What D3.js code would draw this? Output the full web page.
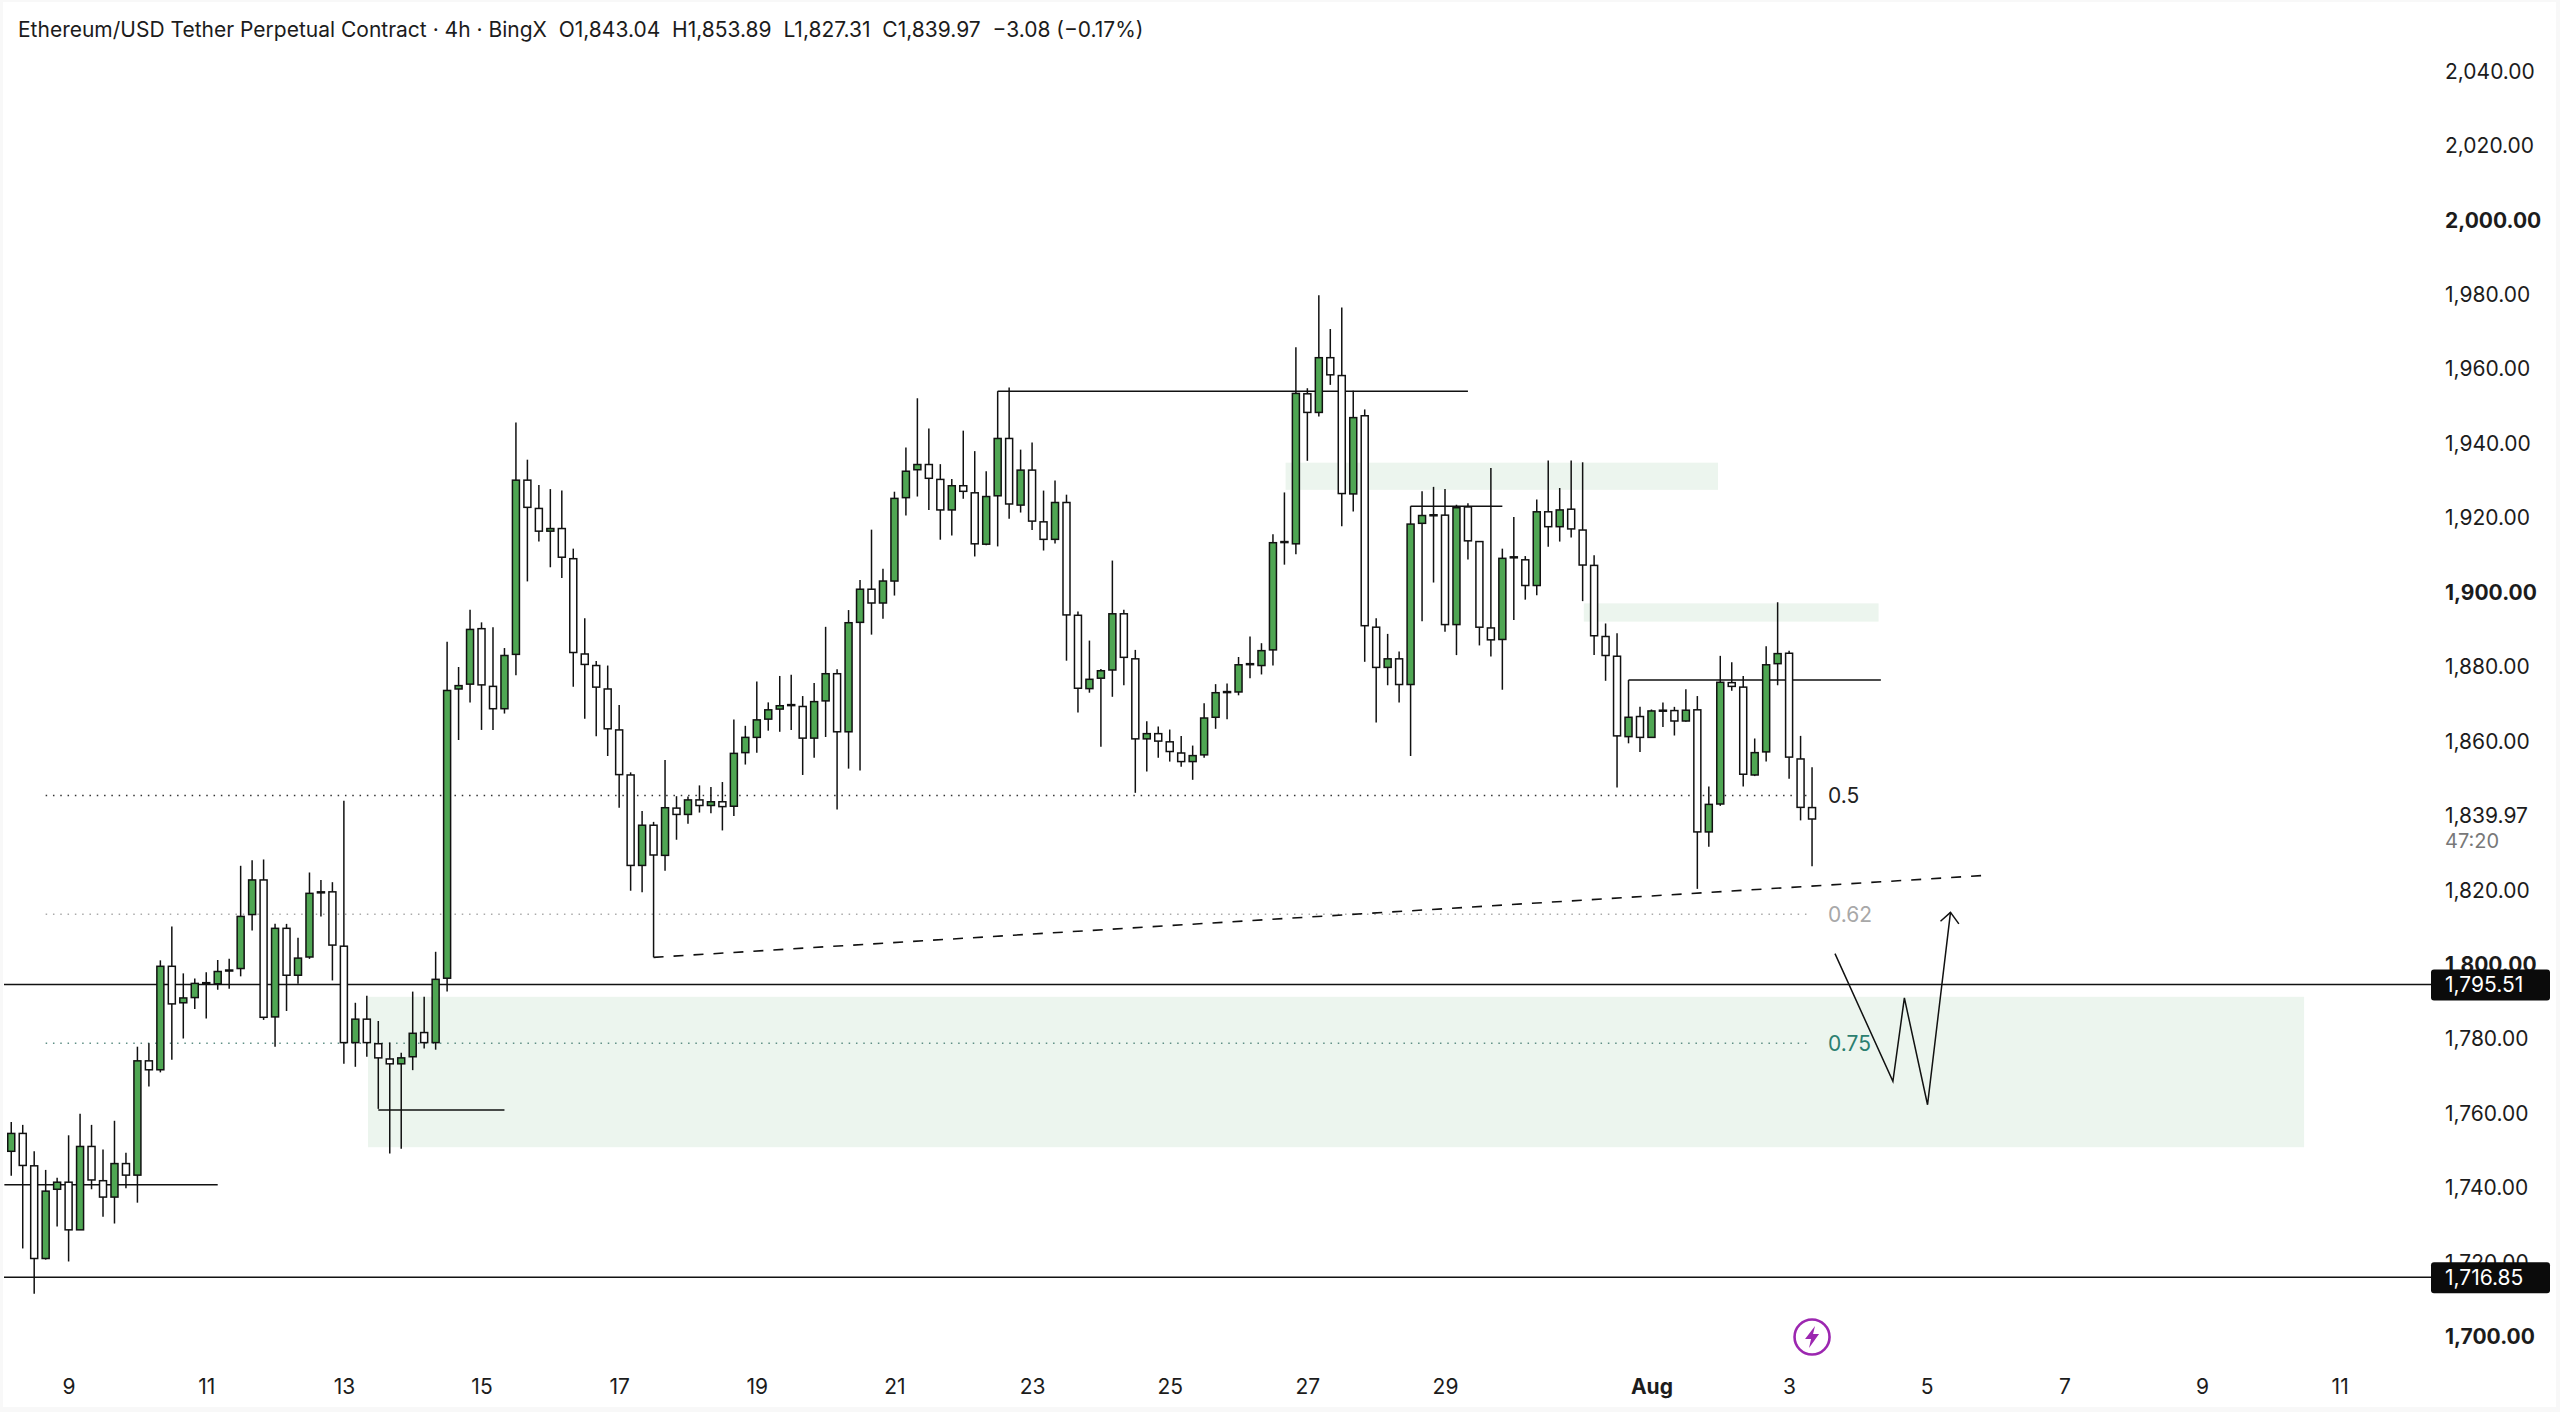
<!DOCTYPE html>
<html>
<head>
<meta charset="utf-8">
<title>ETH/USDT 4h</title>
<script src="https://cdn.jsdelivr.net/npm/d3@7/dist/d3.min.js"></script>
<style>
  html, body { margin: 0; padding: 0; background: #f8f8f8; }
  svg { display: block; }
  text { font-family: Inter, "Noto Sans", sans-serif; white-space: pre; }
  .axis path, .axis line { display: none; }
</style>
</head>
<body>
<svg id="chart" width="2560" height="1412"></svg>
<script>
// Candles, 4h bars, one entry per bar (index 0 = 8 Jul 04:00 or so)
const opens = [
  1750.7,1755.5,1746.8,1721.9,1740.5,1742.4,1729.6,1752.0,1742.8,1738.4,
  1747.4,1744.3,1775.0,1772.6,1800.4,1790.6,1792.0,1795.8,1795.7,1799.3,
  1799.8,1814.3,1823.6,1786.8,1810.6,1798.0,1802.9,1820.3,1820.4,1805.8,
  1779.9,1786.2,1779.6,1775.5,1774.2,1776.1,1782.6,1779.9,1797.2,1874.9,
  1876.2,1891.1,1875.6,1869.6,1884.2,1931.0,1923.4,1917.3,1918.0,1909.9,
  1884.3,1881.2,1874.9,1863.9,1851.8,1827.5,1838.3,1830.2,1842.9,1841.2,
  1845.1,1843.6,1844.6,1843.4,1857.8,1861.9,1866.8,1869.5,1870.6,1870.2,
  1861.7,1871.7,1879.0,1863.4,1892.8,1901.7,1898.0,1903.9,1926.3,1933.8,
  1935.2,1931.2,1923.0,1929.5,1927.6,1913.8,1926.8,1942.2,1924.3,1933.7,
  1919.8,1915.1,1925.0,1894.7,1875.0,1877.8,1880.0,1895.1,1883.0,1861.5,
  1862.9,1860.7,1857.7,1855.4,1857.2,1867.3,1874.1,1874.1,1881.6,1881.2,
  1885.4,1914.4,1913.9,1954.2,1949.2,1963.9,1959.1,1927.3,1948.3,1891.5,
  1880.7,1883.0,1876.1,1919.4,1921.7,1921.6,1892.2,1923.8,1914.5,1891.3,
  1888.2,1910.3,1909.6,1902.7,1922.5,1918.5,1923.2,1917.6,1908.1,1889.0,
  1883.7,1862.1,1867.5,1861.9,1869.2,1869.1,1866.3,1869.3,1836.5,1844.0,
  1876.6,1875.4,1851.8,1858.0,1881.7,1884.5,1856.1,1843.04
];
const closes = [
  1755.5,1746.9,1721.9,1740.0,1742.4,1729.6,1752.0,1743.0,1738.4,1747.4,
  1744.3,1775.0,1772.6,1800.4,1790.3,1791.9,1795.8,1796.0,1799.0,1799.4,
  1813.8,1823.6,1786.7,1810.6,1798.0,1802.6,1820.0,1820.4,1806.1,1779.9,
  1786.2,1779.9,1775.8,1774.2,1775.8,1782.4,1779.9,1796.9,1874.5,1875.8,
  1890.9,1876.0,1869.6,1883.9,1931.0,1923.7,1917.3,1918.0,1910.3,1884.7,
  1881.5,1875.4,1864.2,1851.9,1827.5,1838.3,1830.3,1843.0,1841.2,1845.1,
  1843.6,1844.6,1843.3,1857.6,1861.9,1866.6,1869.3,1870.4,1870.7,1861.7,
  1871.5,1879.0,1863.4,1892.7,1901.7,1898.0,1903.9,1926.1,1933.4,1935.2,
  1931.5,1923.0,1929.5,1928.0,1913.9,1926.6,1942.2,1924.6,1933.7,1920.0,
  1915.1,1925.0,1894.8,1875.1,1877.5,1879.8,1895.1,1883.4,1861.5,1862.9,
  1860.9,1858.1,1855.4,1857.0,1867.1,1873.9,1874.2,1881.4,1881.7,1885.2,
  1914.2,1914.5,1954.3,1949.2,1963.9,1959.3,1927.4,1947.8,1891.9,1880.7,
  1883.0,1876.1,1919.2,1921.5,1921.7,1892.2,1923.6,1914.7,1891.5,1888.1,
  1910.0,1910.4,1902.7,1922.5,1918.5,1923.0,1917.9,1908.2,1889.2,1883.9,
  1862.3,1867.3,1861.9,1869.0,1869.2,1866.3,1869.2,1836.5,1843.9,1876.7,
  1875.6,1852.0,1857.8,1881.4,1884.4,1856.6,1843.1,1839.97
];
const highs = [
  1758.6,1757.8,1750.7,1745.7,1743.6,1755.0,1760.8,1757.8,1751.2,1758.9,
  1750.3,1778.8,1779.7,1802.0,1811.1,1798.5,1797.1,1798.8,1802.1,1802.4,
  1827.4,1828.9,1829.1,1811.8,1811.8,1808.1,1825.6,1823.6,1823.0,1844.9,
  1790.6,1792.5,1785.7,1779.9,1777.2,1793.6,1792.2,1804.3,1887.6,1880.8,
  1896.2,1892.8,1891.5,1885.9,1946.5,1936.5,1929.7,1928.6,1928.2,1912.6,
  1893.9,1882.4,1881.2,1870.6,1852.5,1842.1,1839.2,1855.8,1846.1,1846.0,
  1849.0,1848.6,1849.9,1866.7,1865.0,1876.9,1871.3,1878.4,1878.7,1873.0,
  1876.5,1891.6,1880.2,1896.1,1904.2,1917.7,1907.2,1927.9,1939.8,1953.0,
  1944.9,1935.3,1931.3,1944.3,1938.8,1933.4,1954.9,1955.9,1939.2,1941.1,
  1928.2,1930.9,1927.1,1895.7,1887.9,1880.3,1909.4,1896.2,1885.4,1866.2,
  1864.8,1864.0,1862.3,1859.7,1871.1,1876.2,1876.4,1883.5,1889.0,1887.2,
  1916.5,1927.7,1966.7,1955.7,1980.7,1971.6,1977.4,1955.0,1950.0,1893.9,
  1889.7,1885.0,1924.0,1928.0,1929.2,1928.6,1924.4,1924.8,1914.5,1934.3,
  1912.6,1921.1,1910.6,1925.8,1936.3,1928.9,1936.3,1935.8,1910.8,1892.5,
  1889.9,1877.3,1870.1,1869.4,1871.3,1870.1,1874.8,1873.0,1848.7,1883.8,
  1882.1,1878.4,1861.6,1886.4,1898.2,1885.2,1862.3,1853.89
];
const lows = [
  1744.1,1724.6,1712.4,1721.6,1730.5,1721.1,1729.6,1740.5,1733.1,1731.3,
  1740.8,1736.9,1768.1,1771.9,1775.3,1781.0,1788.9,1786.4,1794.1,1794.4,
  1797.7,1810.0,1786.0,1778.8,1788.4,1795.7,1802.4,1813.8,1796.6,1774.2,
  1773.4,1776.1,1762.1,1750.1,1751.4,1772.5,1778.3,1778.0,1793.6,1861.2,
  1871.3,1863.9,1863.9,1868.3,1878.6,1903.8,1914.5,1907.6,1904.7,1875.5,
  1866.9,1862.2,1856.9,1843.0,1820.7,1820.3,1802.8,1826.1,1834.4,1838.7,
  1841.7,1841.5,1836.9,1840.8,1854.6,1857.8,1863.7,1863.4,1863.9,1851.8,
  1856.4,1862.0,1842.5,1853.5,1853.0,1889.5,1893.8,1900.0,1921.5,1926.6,
  1923.0,1915.0,1916.1,1926.0,1910.5,1913.5,1913.2,1920.6,1922.3,1917.6,
  1912.1,1914.0,1882.5,1868.6,1873.9,1859.4,1872.8,1875.9,1847.0,1852.7,
  1856.4,1855.4,1854.0,1850.5,1856.4,1864.2,1866.8,1873.2,1877.8,1878.8,
  1881.2,1908.3,1911.1,1936.2,1948.1,1956.6,1918.6,1922.6,1882.2,1865.9,
  1875.9,1871.3,1856.9,1893.1,1903.5,1890.3,1884.0,1909.7,1886.6,1883.6,
  1874.7,1893.4,1898.9,1900.1,1913.1,1914.5,1915.6,1898.5,1884.0,1877.1,
  1848.4,1860.3,1858.0,1861.9,1864.7,1862.4,1866.1,1821.2,1832.5,1843.5,
  1874.4,1848.7,1851.5,1855.4,1875.9,1850.8,1839.6,1827.31
];

// Axis labels
const priceTicks = [1700,1720,1740,1760,1780,1800,1820,1840,1860,1880,1900,1920,1940,1960,1980,2000,2020,2040].filter(p => p !== 1840);
const boldPrices = [1700,1800,1900,2000];
const dateTickBars = [5,17,29,41,53,65,77,89,101,113,125,143,155,167,179,191,203];
const dateTickLabels = ["9","11","13","15","17","19","21","23","25","27","29","Aug","3","5","7","9","11"];

// Drawings on the chart, in bar index / price
const zones = [
  { x0: 31.1, x1: 199.9, top: 1792.2, bottom: 1751.8 },
  { x0: 111.1, x1: 148.8, top: 1935.7, bottom: 1928.4 },
  { x0: 137.1, x1: 162.8, top: 1897.9, bottom: 1893.0 }
];
const levels = [
  { x0: -0.6, x1: 18, price: 1741.7 },
  { x0: 32, x1: 43, price: 1761.8 },
  { x0: 86, x1: 127, price: 1954.9 },
  { x0: 122, x1: 130, price: 1924.0 },
  { x0: 141, x1: 163, price: 1877.3 }
];
const fibs = [
  { label: "0.5", price: 1846.3, line: "#333333", text: "#222222" },
  { label: "0.62", price: 1814.4, line: "#aaaaaa", text: "#a8a8a8" },
  { label: "0.75", price: 1779.7, line: "#5f8f85", text: "#2b7f70" }
];
const priceLines = [1795.51, 1716.85];
const trendline = [[56, 1802.8], [172, 1824.8]];
const pathDrawing = [[159, 1803.8], [164.05, 1769.5], [165.05, 1791.9], [167.07, 1763.2], [169.07, 1814.9]];
const arrowHead = [[168.2, 1812.5], [169.07, 1814.9], [169.8, 1811.8]];

const legendText = "Ethereum/USD Tether Perpetual Contract \u00b7 4h \u00b7 BingX  O1,843.04  H1,853.89  L1,827.31  C1,839.97  \u22123.08 (\u22120.17%)";
const lastPrice = 1839.97;
const countdown = "47:20";

const svg = d3.select("#chart");
const x = d3.scaleLinear().domain([0, 203]).range([11.25, 2339.66]);
const y = d3.scaleLinear().domain([1716.85, 1795.51]).range([1277.3, 984.5]);
const fmt = d3.format(",.2f");
const LABEL_LIFT = -3; // axis labels sit slightly above their true price in the original
const AXIS_X = 2445;

// White pane inside the thin grey frame
svg.append("rect").attr("x", 3).attr("y", 2).attr("width", 2553).attr("height", 1405).attr("fill", "#ffffff");

// Zones go under everything else
svg.append("g").selectAll("rect").data(zones).join("rect")
    .attr("x", d => x(d.x0))
    .attr("width", d => x(d.x1) - x(d.x0))
    .attr("y", d => y(d.top))
    .attr("height", d => y(d.bottom) - y(d.top))
    .attr("fill", "#ecf5ee");

// Fib levels
const lastBar = opens.length - 1;
svg.append("g").selectAll("line").data(fibs).join("line")
    .attr("x1", x(3)).attr("x2", x(lastBar))
    .attr("y1", d => y(d.price)).attr("y2", d => y(d.price))
    .attr("stroke", d => d.line)
    .attr("stroke-width", 1.5)
    .attr("stroke-dasharray", "1.5 5.8");

svg.append("g").selectAll("text").data(fibs).join("text")
    .attr("x", x(lastBar) + 16)
    .attr("y", d => y(d.price))
    .attr("dy", "0.36em")
    .attr("font-size", 21)
    .attr("fill", d => d.text)
    .text(d => d.label);

// Level lines with their little drop to the candle
svg.append("g").selectAll("line").data(levels).join("line")
    .attr("x1", d => x(d.x0)).attr("x2", d => x(d.x1))
    .attr("y1", d => y(d.price)).attr("y2", d => y(d.price))
    .attr("stroke", "#111111")
    .attr("stroke-width", 1.6);

// Full width lines
svg.append("g").selectAll("line").data(priceLines).join("line")
    .attr("x1", 4).attr("x2", 2432)
    .attr("y1", d => y(d)).attr("y2", d => y(d))
    .attr("stroke", "#111111")
    .attr("stroke-width", 1.6);

// Candles
const candles = opens.map((o, i) => ({ i, open: o, close: closes[i], high: highs[i], low: lows[i] }));
const candle = svg.append("g").selectAll("g").data(candles).join("g");

candle.append("line")
    .attr("x1", d => x(d.i)).attr("x2", d => x(d.i))
    .attr("y1", d => y(d.high)).attr("y2", d => y(d.low))
    .attr("stroke", "#111111")
    .attr("stroke-width", 1.5);

candle.append("rect")
    .attr("x", d => x(d.i) - 3.5)
    .attr("width", 7)
    .attr("y", d => y(Math.max(d.open, d.close)))
    .attr("height", d => Math.max(1, Math.abs(y(d.open) - y(d.close))))
    .attr("fill", d => d.close >= d.open ? "#4fa653" : "#ffffff")
    .attr("stroke", "#111111")
    .attr("stroke-width", 1.5);

// Dashed trendline
const line = d3.line().x(d => x(d[0])).y(d => y(d[1]));
svg.append("path")
    .attr("d", line(trendline))
    .attr("fill", "none")
    .attr("stroke", "#111111")
    .attr("stroke-width", 1.6)
    .attr("stroke-dasharray", "10 10");

// Hand drawn path with arrow
[pathDrawing, arrowHead].forEach(pts => {
    svg.append("path")
        .attr("d", line(pts))
        .attr("fill", "none")
        .attr("stroke", "#111111")
        .attr("stroke-width", 1.5);
});

// Price axis
const yAxis = svg.append("g")
    .attr("class", "axis")
    .attr("transform", `translate(${AXIS_X},${LABEL_LIFT})`)
    .call(d3.axisRight(y).tickValues(priceTicks).tickFormat(fmt).tickSize(0).tickPadding(0));
yAxis.selectAll("text")
    .attr("font-family", null)
    .attr("font-size", 21)
    .attr("fill", "#1c1c1c")
    .attr("font-weight", d => boldPrices.includes(d) ? 700 : 400);

// Last price and bar countdown
svg.append("text")
    .attr("x", AXIS_X).attr("y", y(lastPrice) + LABEL_LIFT)
    .attr("dy", "0.32em")
    .attr("font-size", 21).attr("fill", "#1c1c1c")
    .text(fmt(lastPrice));
svg.append("text")
    .attr("x", AXIS_X).attr("y", y(lastPrice) + 23)
    .attr("dy", "0.32em")
    .attr("font-size", 20).attr("fill", "#787878")
    .text(countdown);

// Black price tags
const tag = svg.append("g").selectAll("g").data(priceLines).join("g")
    .attr("transform", d => `translate(2431,${y(d) - 15})`);
tag.append("rect")
    .attr("width", 119).attr("height", 31).attr("rx", 3)
    .attr("fill", "#0b0b0b");
tag.append("text")
    .attr("x", 14).attr("y", 15)
    .attr("dy", "0.36em")
    .attr("font-size", 21).attr("fill", "#ffffff")
    .text(d => fmt(d));

// Date axis
const xAxis = svg.append("g")
    .attr("class", "axis")
    .attr("transform", "translate(0,1386)")
    .call(d3.axisBottom(x).tickValues(dateTickBars)
        .tickFormat((d, i) => dateTickLabels[i]).tickSize(0).tickPadding(0));
xAxis.selectAll("text")
    .attr("dy", "0.36em")
    .attr("y", 0)
    .attr("font-family", null)
    .attr("font-size", 21)
    .attr("fill", "#1c1c1c")
    .attr("font-weight", (d, i) => dateTickLabels[i] === "Aug" ? 700 : 400);

// Legend
svg.append("text")
    .attr("x", 18).attr("y", 37)
    .attr("font-size", 21).attr("fill", "#1c1c1c")
    .text(legendText);

// Lightning badge
const badge = svg.append("g").attr("transform", `translate(${x(lastBar)},1337)`);
badge.append("circle").attr("r", 17.5).attr("fill", "#ffffff").attr("stroke", "#9c27b0").attr("stroke-width", 2.6);
badge.append("path").attr("d", "M3,-11 L-7,2 L-1,2 L-3,11 L7,-3 L1,-3 Z").attr("fill", "#9c27b0");
</script>
</body>
</html>
